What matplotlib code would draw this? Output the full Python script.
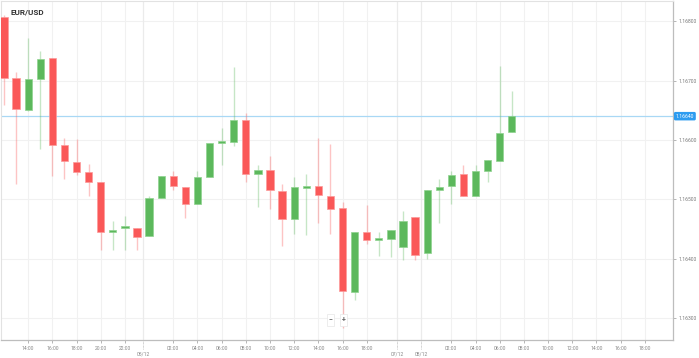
import numpy as np
import matplotlib
matplotlib.use("Agg")
import matplotlib.pyplot as plt
import matplotlib.transforms as mtransforms

plt.rcParams['font.family'] = ['Roboto', 'DejaVu Sans']

# hourly EUR/USD candles, 04/12 12:00 -> 08/12 07:00
opens = [1.16807, 1.16705, 1.16651, 1.16702, 1.16738, 1.16591, 1.16563, 1.16546, 1.16529,
         1.16445, 1.16451, 1.16452, 1.16438, 1.16503, 1.16539, 1.16521, 1.16492, 1.16537,
         1.16595, 1.16597, 1.16634, 1.16542, 1.16550, 1.16514, 1.16467, 1.16519, 1.16522,
         1.16505, 1.16485, 1.16344, 1.16445, 1.16431, 1.16433, 1.16420, 1.16470, 1.16409,
         1.16516, 1.16523, 1.16543, 1.16505, 1.16547, 1.16565, 1.16614]
highs = [1.16811, 1.16715, 1.16772, 1.16750, 1.16738, 1.16603, 1.16601, 1.16560, 1.16529,
         1.16463, 1.16472, 1.16452, 1.16506, 1.16539, 1.16548, 1.16521, 1.16547, 1.16595,
         1.16620, 1.16722, 1.16646, 1.16557, 1.16573, 1.16526, 1.16537, 1.16543, 1.16604,
         1.16593, 1.16495, 1.16445, 1.16490, 1.16445, 1.16449, 1.16480, 1.16470, 1.16515,
         1.16535, 1.16547, 1.16558, 1.16558, 1.16566, 1.16725, 1.16683]
lows = [1.16659, 1.16526, 1.16649, 1.16585, 1.16539, 1.16534, 1.16541, 1.16506, 1.16415,
        1.16415, 1.16414, 1.16415, 1.16438, 1.16503, 1.16516, 1.16468, 1.16492, 1.16537,
        1.16557, 1.16590, 1.16529, 1.16487, 1.16483, 1.16421, 1.16442, 1.16440, 1.16460,
        1.16442, 1.16284, 1.16330, 1.16424, 1.16404, 1.16403, 1.16398, 1.16398, 1.16399,
        1.16460, 1.16492, 1.16505, 1.16505, 1.16529, 1.16565, 1.16614]
closes = [1.16704, 1.16652, 1.16702, 1.16737, 1.16592, 1.16565, 1.16546, 1.16529, 1.16445,
          1.16449, 1.16453, 1.16437, 1.16502, 1.16539, 1.16522, 1.16492, 1.16538, 1.16595,
          1.16599, 1.16634, 1.16543, 1.16549, 1.16515, 1.16467, 1.16521, 1.16522, 1.16508,
          1.16484, 1.16346, 1.16445, 1.16431, 1.16435, 1.16449, 1.16463, 1.16407, 1.16515,
          1.16521, 1.16541, 1.16505, 1.16547, 1.16566, 1.16612, 1.16640]

# trading sessions shown on the time axis: (date, first hour, last hour + 1)
sessions = [("04/12", 12, 24), ("05/12", 0, 21), ("07/12", 22, 24), ("08/12", 0, 20)]
y_ticks = [1.163, 1.164, 1.165, 1.166, 1.167, 1.168]
current_price = 1.16640

UP = '#5cb85c'
DOWN = '#fa5858'

# build hourly slots along the axis (date, hour, first of session, last of session)
slots = []
for day, h0, h1 in sessions:
    for h in range(h0, h1):
        slots.append((day, h, h == h0, h == h1 - 1))

fig = plt.figure(figsize=(6.99, 3.58), dpi=100)
ax = fig.add_axes([0.5 / 699, 18 / 358, 672.5 / 699, 339 / 358])

x = np.arange(len(opens))
o = np.array(opens)
c = np.array(closes)
up = c >= o
cols = np.where(up, UP, DOWN)
bottom = np.minimum(o, c)
height = np.maximum(np.abs(c - o), 0.000035)

ax.vlines(x, lows, highs, colors=cols, linewidth=1, alpha=0.35, zorder=2)
ax.bar(x, height, bottom=bottom, width=0.6, color=cols,
       edgecolor=np.where(up, '#8fd38f', '#fc9a9a'), linewidth=0.5, zorder=3)

# x ticks: even hours, dates at the session boundaries
hour_pos, hour_lab, day_pos, day_lab = [], [], [], []
for i, (day, h, first, last) in enumerate(slots):
    if first and i > 0:
        day_pos.append(i - 0.5)
        day_lab.append(day)
    if h % 2 == 0 and not first and not last:
        hour_pos.append(i)
        hour_lab.append("%02d:00" % h)

ax.set_xlim(-0.29, 55.33)
ax.set_ylim(1.16263, 1.16834)
ax.set_xticks(hour_pos)
ax.set_xticklabels(hour_lab)
ax.set_yticks(y_ticks)
ax.set_yticklabels(["%.5f" % v for v in y_ticks])
ax.yaxis.tick_right()
ax.tick_params(axis='both', labelsize=3.6, colors='#999999', length=2, width=0.5, pad=2)
ax.tick_params(axis='x', labelcolor='#888888')
ax.tick_params(axis='y', labelcolor='#777777')

ax.grid(True, color='#f1f1f1', linewidth=0.8, zorder=0)
ax.set_axisbelow(True)
for xp in day_pos:
    ax.axvline(xp, color='#ebebeb', linewidth=0.9, zorder=1)

trans = mtransforms.blended_transform_factory(ax.transData, ax.transAxes)
for xp, lab in zip(day_pos, day_lab):
    ax.plot([xp, xp], [0, -0.028], transform=trans, color='#aaaaaa',
            linewidth=0.5, linestyle=(0, (1, 1)), clip_on=False)
    ax.text(xp, -0.035, lab, transform=trans, ha='center', va='top',
            fontsize=3.6, color='#888888')

for side in ['left', 'top']:
    ax.spines[side].set_color('#e2e2e2')
    ax.spines[side].set_linewidth(0.8)
for side in ['right', 'bottom']:
    ax.spines[side].set_color('#bdbdbd')
    ax.spines[side].set_linewidth(0.9)

# current price line and tag
ax.axhline(current_price, color='#a9d8f5', linewidth=0.9, zorder=1)
ytrans = mtransforms.blended_transform_factory(ax.transAxes, ax.transData)
ax.text(1.004, current_price, "%.5f" % current_price, transform=ytrans,
        ha='left', va='center', fontsize=3.6, color='white',
        bbox=dict(boxstyle='round,pad=0.35,rounding_size=0.3', fc='#2d9cf0', ec='none'))

ax.text(10 / 672.5, 1 - 11 / 339, "EUR/USD", transform=ax.transAxes,
        ha='left', va='center', fontsize=5.8, fontweight='bold', color='#333333')

# zoom buttons
for xb, sym in [(330, '\u2212'), (343, '+')]:
    ax.text(xb / 672.5, 1 - 319 / 339, sym, transform=ax.transAxes, ha='center',
            va='center', fontsize=5, fontweight='bold', color='#666666',
            bbox=dict(boxstyle='square,pad=0.25', fc='white', ec='#e6e6e6', lw=0.5))

fig.savefig("out.png", dpi=100)
